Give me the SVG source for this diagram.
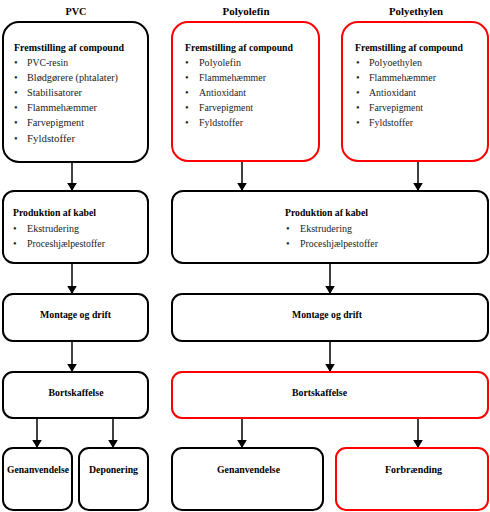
<svg xmlns="http://www.w3.org/2000/svg" width="490" height="512" viewBox="0 0 490 512" font-family="'Liberation Serif', 'Times New Roman', 'DejaVu Serif', serif">
<defs>
<marker id="ah" viewBox="0 0 10 12" refX="10" refY="6" markerWidth="8" markerHeight="10" markerUnits="userSpaceOnUse" orient="auto">
<path d="M0,0 L10,6 L0,12 Z" fill="#000"/>
</marker>
<style>
.bk{fill:#fff;stroke:#000;stroke-width:2}
.rd{fill:#fff;stroke:#f00;stroke-width:2}
.t{font-family:'Liberation Serif',serif;font-weight:bold;font-size:11px;fill:#000}
.h{font-family:'Liberation Serif',serif;font-weight:bold;font-size:11px;fill:#000}
.i{font-family:'Liberation Serif',serif;font-size:10.5px;fill:#222}
.c{text-anchor:middle}
.con line{stroke:#000;stroke-width:1.5;marker-end:url(#ah)}
</style>
</defs>
<rect width="490" height="512" fill="#fff"/>

<g id="titles">
<text class="t c" x="76" y="15" textLength="21" lengthAdjust="spacingAndGlyphs">PVC</text>
<text class="t c" x="246" y="15" textLength="47" lengthAdjust="spacingAndGlyphs">Polyolefin</text>
<text class="t c" x="416" y="15" textLength="54" lengthAdjust="spacingAndGlyphs">Polyethylen</text>
</g>

<g id="connectors" class="con">
<line x1="72" y1="162" x2="72" y2="191"/>
<line x1="242" y1="161" x2="242" y2="191"/>
<line x1="418" y1="161" x2="418" y2="191"/>
<line x1="72" y1="263" x2="72" y2="294"/>
<line x1="330" y1="263" x2="330" y2="294"/>
<line x1="72" y1="341" x2="72" y2="372"/>
<line x1="330" y1="341" x2="330" y2="372"/>
<line x1="37" y1="418" x2="37" y2="448"/>
<line x1="113" y1="418" x2="113" y2="448"/>
<line x1="242" y1="418" x2="242" y2="448"/>
<line x1="418" y1="418" x2="418" y2="448"/>
</g>

<g id="pvc-compound">
<rect class="bk" x="3" y="22" width="145" height="140" rx="16"/>
<text class="h" x="14" y="51" textLength="110" lengthAdjust="spacingAndGlyphs">Fremstilling af compound</text>
<g class="i">
<text x="14" y="66">•</text><text x="27" y="66" textLength="41" lengthAdjust="spacingAndGlyphs">PVC-resin</text>
<text x="14" y="81">•</text><text x="27" y="81" textLength="91" lengthAdjust="spacingAndGlyphs">Blødgørere (phtalater)</text>
<text x="14" y="96">•</text><text x="27" y="96" textLength="55" lengthAdjust="spacingAndGlyphs">Stabilisatorer</text>
<text x="14" y="111">•</text><text x="27" y="111" textLength="70" lengthAdjust="spacingAndGlyphs">Flammehæmmer</text>
<text x="14" y="126">•</text><text x="27" y="126" textLength="57" lengthAdjust="spacingAndGlyphs">Farvepigment</text>
<text x="14" y="142">•</text><text x="27" y="142" textLength="48" lengthAdjust="spacingAndGlyphs">Fyldstoffer</text>
</g>
</g>

<g id="polyolefin-compound">
<rect class="rd" x="172" y="22" width="147" height="139" rx="16"/>
<text class="h" x="185" y="51" textLength="108" lengthAdjust="spacingAndGlyphs">Fremstilling af compound</text>
<g class="i">
<text x="185" y="66">•</text><text x="199" y="66" textLength="42" lengthAdjust="spacingAndGlyphs">Polyolefin</text>
<text x="185" y="81">•</text><text x="199" y="81" textLength="67" lengthAdjust="spacingAndGlyphs">Flammehæmmer</text>
<text x="185" y="96">•</text><text x="199" y="96" textLength="47" lengthAdjust="spacingAndGlyphs">Antioxidant</text>
<text x="185" y="111">•</text><text x="199" y="111" textLength="54" lengthAdjust="spacingAndGlyphs">Farvepigment</text>
<text x="185" y="126">•</text><text x="199" y="126" textLength="44" lengthAdjust="spacingAndGlyphs">Fyldstoffer</text>
</g>
</g>

<g id="polyethylen-compound">
<rect class="rd" x="342" y="22" width="146" height="139" rx="16"/>
<text class="h" x="355" y="51" textLength="108" lengthAdjust="spacingAndGlyphs">Fremstilling af compound</text>
<g class="i">
<text x="356" y="66">•</text><text x="369" y="66" textLength="53" lengthAdjust="spacingAndGlyphs">Polyoethylen</text>
<text x="356" y="81">•</text><text x="369" y="81" textLength="67" lengthAdjust="spacingAndGlyphs">Flammehæmmer</text>
<text x="356" y="96">•</text><text x="369" y="96" textLength="47" lengthAdjust="spacingAndGlyphs">Antioxidant</text>
<text x="356" y="111">•</text><text x="369" y="111" textLength="54" lengthAdjust="spacingAndGlyphs">Farvepigment</text>
<text x="356" y="126">•</text><text x="369" y="126" textLength="44" lengthAdjust="spacingAndGlyphs">Fyldstoffer</text>
</g>
</g>

<g id="pvc-produktion">
<rect class="bk" x="3" y="191" width="145" height="72" rx="11"/>
<text class="h" x="13" y="216" textLength="83" lengthAdjust="spacingAndGlyphs">Produktion af kabel</text>
<g class="i">
<text x="13" y="232">•</text><text x="27" y="232" textLength="52" lengthAdjust="spacingAndGlyphs">Ekstrudering</text>
<text x="13" y="247">•</text><text x="27" y="247" textLength="78" lengthAdjust="spacingAndGlyphs">Proceshjælpestoffer</text>
</g>
</g>

<g id="po-produktion">
<rect class="bk" x="172" y="191" width="316" height="72" rx="11"/>
<text class="h" x="285" y="216" textLength="83" lengthAdjust="spacingAndGlyphs">Produktion af kabel</text>
<g class="i">
<text x="286" y="232">•</text><text x="300" y="232" textLength="52" lengthAdjust="spacingAndGlyphs">Ekstrudering</text>
<text x="286" y="247">•</text><text x="300" y="247" textLength="78" lengthAdjust="spacingAndGlyphs">Proceshjælpestoffer</text>
</g>
</g>

<g id="pvc-montage">
<rect class="bk" x="3" y="294" width="145" height="47" rx="10"/>
<text class="h c" x="75.5" y="318" textLength="71" lengthAdjust="spacingAndGlyphs">Montage og drift</text>
</g>

<g id="po-montage">
<rect class="bk" x="172" y="294" width="316" height="47" rx="10"/>
<text class="h c" x="327" y="318" textLength="70" lengthAdjust="spacingAndGlyphs">Montage og drift</text>
</g>

<g id="pvc-bortskaffelse">
<rect class="bk" x="3" y="372" width="145" height="46" rx="10"/>
<text class="h c" x="76" y="396" textLength="55" lengthAdjust="spacingAndGlyphs">Bortskaffelse</text>
</g>

<g id="po-bortskaffelse">
<rect class="rd" x="172" y="372" width="316" height="46" rx="10"/>
<text class="h c" x="319.5" y="396" textLength="55" lengthAdjust="spacingAndGlyphs">Bortskaffelse</text>
</g>

<g id="pvc-genanvendelse">
<rect class="bk" x="3" y="448" width="69" height="62" rx="10"/>
<text class="h c" x="38" y="473" textLength="62" lengthAdjust="spacingAndGlyphs">Genanvendelse</text>
</g>

<g id="pvc-deponering">
<rect class="bk" x="79" y="448" width="69" height="62" rx="10"/>
<text class="h c" x="113.5" y="473" textLength="49" lengthAdjust="spacingAndGlyphs">Deponering</text>
</g>

<g id="po-genanvendelse">
<rect class="bk" x="172" y="448" width="151" height="62" rx="10"/>
<text class="h c" x="248.5" y="473" textLength="63" lengthAdjust="spacingAndGlyphs">Genanvendelse</text>
</g>

<g id="po-forbraending">
<rect class="rd" x="336" y="448" width="152" height="62" rx="10"/>
<text class="h c" x="413.5" y="473" textLength="57" lengthAdjust="spacingAndGlyphs">Forbrænding</text>
</g>
</svg>
